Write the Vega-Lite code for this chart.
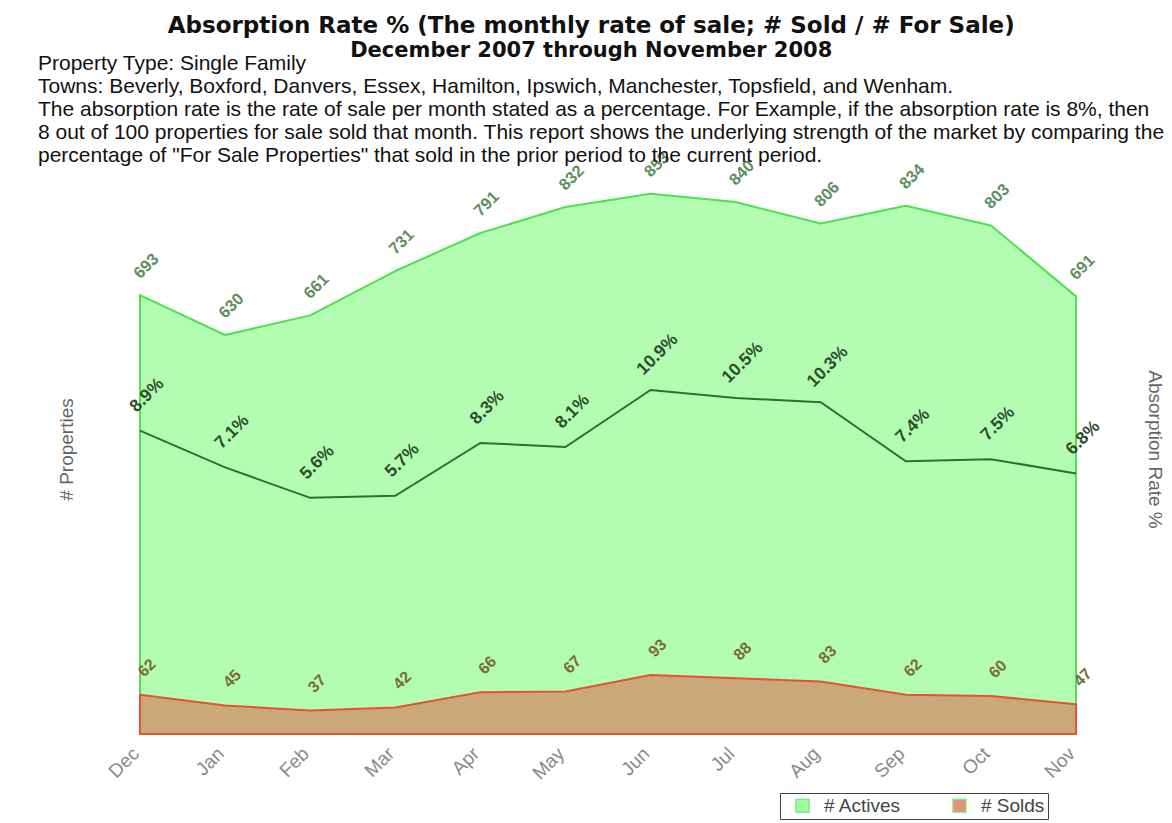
{
  "$schema": "https://vega.github.io/schema/vega-lite/v6.json",
  "background": "white",
  "padding": {"left": 38, "top": 15, "right": 0, "bottom": 0},
  "title": {
    "text": "Absorption Rate % (The monthly rate of sale; # Sold / # For Sale)",
    "subtitle": "December 2007 through November 2008",
    "font": "DejaVu Sans",
    "fontSize": 23,
    "fontWeight": "bold",
    "color": "#111111",
    "subtitleFont": "DejaVu Sans",
    "subtitleFontSize": 21,
    "subtitleFontWeight": "bold",
    "subtitleColor": "#111111",
    "subtitlePadding": 2,
    "anchor": "middle",
    "frame": "bounds",
    "offset": -8,
    "dx": -10
  },
  "vconcat": [
    {
      "width": 936,
      "height": 570,
      "title": {
        "text": [
          "Property Type: Single Family",
          "Towns: Beverly, Boxford, Danvers,  Essex, Hamilton,  Ipswich, Manchester, Topsfield, and Wenham.",
          "The absorption rate is the rate of sale per month stated as a percentage. For Example, if the absorption rate is 8%, then",
          "8 out of 100 properties for sale sold that month. This report shows the underlying strength of the market by comparing the",
          "percentage of \"For Sale Properties\" that sold in the prior period to the current period."
        ],
        "font": "Liberation Sans",
        "fontSize": 21,
        "fontWeight": "normal",
        "lineHeight": 23,
        "color": "#111111",
        "anchor": "start",
        "frame": "bounds",
        "offset": -17,
        "dx": -19,
        "limit": 1134
      },
      "data": {
        "values": [
          {"month": "Dec", "actives": 693, "solds": 62, "rate": 0.089},
          {"month": "Jan", "actives": 630, "solds": 45, "rate": 0.071},
          {"month": "Feb", "actives": 661, "solds": 37, "rate": 0.056},
          {"month": "Mar", "actives": 731, "solds": 42, "rate": 0.057},
          {"month": "Apr", "actives": 791, "solds": 66, "rate": 0.083},
          {"month": "May", "actives": 832, "solds": 67, "rate": 0.081},
          {"month": "Jun", "actives": 853, "solds": 93, "rate": 0.109},
          {"month": "Jul", "actives": 840, "solds": 88, "rate": 0.105},
          {"month": "Aug", "actives": 806, "solds": 83, "rate": 0.103},
          {"month": "Sep", "actives": 834, "solds": 62, "rate": 0.074},
          {"month": "Oct", "actives": 803, "solds": 60, "rate": 0.075},
          {"month": "Nov", "actives": 691, "solds": 47, "rate": 0.068}
        ]
      },
      "encoding": {
        "x": {
          "field": "month",
          "type": "ordinal",
          "sort": null,
          "scale": {"type": "point", "padding": 0},
          "axis": {
            "title": null,
            "labelAngle": -45,
            "labelFont": "Liberation Sans",
            "labelFontSize": 19,
            "labelColor": "#8a8a8a",
            "labelPadding": 10,
            "labelOffset": -11,
            "ticks": false,
            "domain": false,
            "grid": false
          }
        }
      },
      "layer": [
        {
          "layer": [
            {
              "mark": {"type": "area", "fillOpacity": 0.55, "stroke": "#4fe04f", "strokeWidth": 2, "strokeJoin": "round"},
              "encoding": {
                "y": {"field": "actives", "type": "quantitative", "title": "# Properties", "scale": {"domain": [0, 900]}},
                "color": {
                  "datum": "# Actives",
                  "type": "nominal",
                  "scale": {"domain": ["# Actives", "# Solds"], "range": ["#75fb75", "#dd6248"]},
                  "legend": {
                    "orient": "none",
                    "legendX": 640,
                    "legendY": 629,
                    "direction": "horizontal",
                    "title": null,
                    "strokeColor": "#444444",
                    "fillColor": "white",
                    "padding": 3,
                    "gridAlign": "all",
                    "symbolType": "square",
                    "symbolSize": 169,
                    "symbolOffset": 10,
                    "symbolOpacity": 0.7,
                    "labelFont": "Liberation Sans",
                    "labelFontSize": 19,
                    "labelColor": "#444444",
                    "labelOffset": 12,
                    "columnPadding": 38,
                    "encode": {
                      "symbols": {
                        "update": {
                          "stroke": {"value": "#444444"},
                          "strokeWidth": {"value": 1.5}
                        }
                      }
                    }
                  }
                }
              }
            },
            {
              "mark": {"type": "text", "angle": -45, "dx": 25, "dy": -16, "align": "center", "baseline": "middle", "font": "Liberation Sans", "fontSize": 16.5, "fontWeight": "bold", "color": "#5f8f5f"},
              "encoding": {
                "y": {"field": "actives", "type": "quantitative", "title": "# Properties"},
                "text": {"field": "actives", "type": "quantitative"}
              }
            },
            {
              "mark": {"type": "area", "fillOpacity": 0.55, "stroke": "#e5532f", "strokeWidth": 2, "strokeJoin": "round"},
              "encoding": {
                "y": {"field": "solds", "type": "quantitative", "title": "# Properties"},
                "color": {"datum": "# Solds", "type": "nominal"}
              }
            },
            {
              "mark": {"type": "text", "angle": -45, "dx": 24, "dy": -14, "align": "center", "baseline": "middle", "font": "Liberation Sans", "fontSize": 16, "fontWeight": "bold", "color": "#7d6a35"},
              "encoding": {
                "y": {"field": "solds", "type": "quantitative", "title": "# Properties"},
                "text": {"field": "solds", "type": "quantitative"}
              }
            }
          ]
        },
        {
          "encoding": {
            "y": {
              "field": "rate",
              "type": "quantitative",
              "title": "Absorption Rate %",
              "scale": {"domain": [-0.06, 0.22]},
              "axis": {"orient": "right"}
            }
          },
          "layer": [
            {
              "mark": {"type": "line", "color": "#2e6e34", "strokeWidth": 2}
            },
            {
              "mark": {"type": "text", "angle": -45, "dx": 30, "dy": -20, "align": "center", "baseline": "middle", "font": "Liberation Sans", "fontSize": 17.5, "fontWeight": "bold", "color": "#2d4d2d"},
              "encoding": {
                "text": {"field": "rate", "type": "quantitative", "format": ".1%"}
              }
            }
          ]
        }
      ],
      "resolve": {"scale": {"y": "independent"}}
    }
  ],
  "config": {
    "view": {"stroke": null},
    "axisY": {
      "labels": false,
      "ticks": false,
      "domain": false,
      "grid": false,
      "titleFont": "Liberation Sans",
      "titleFontSize": 19,
      "titleFontWeight": "normal",
      "titleColor": "#666666"
    },
    "axisLeft": {"titlePadding": 64},
    "axisRight": {"titlePadding": 68}
  }
}
